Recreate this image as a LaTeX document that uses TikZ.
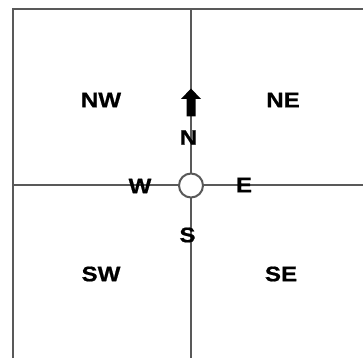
\documentclass[tikz,border=0pt]{standalone}
\usepackage{fontspec}
\setmainfont[FakeStretch=1.15]{Liberation Sans}
\usetikzlibrary{arrows.meta}

\begin{document}
\begin{tikzpicture}[
    x=1pt, y=-1pt,
    font=\bfseries\addfontfeatures{FakeBold=0.8}\fontsize{21}{21}\selectfont,
    grid/.style={draw=black!65, line width=2pt},
    quadrant/.style={inner sep=0pt, anchor=center},
    dirlabel/.style={inner sep=0pt, anchor=center},
    origin/.style={circle, draw=black!65, line width=2pt, fill=white, minimum size=24pt, inner sep=0pt},
    north arrow/.style={fill=black}
]
\useasboundingbox (0,0) rectangle (363,358);

% outer frame and the two axes
\coordinate (topleft) at (12.5,9.5);
\coordinate (topright) at (363,9.5);
\coordinate (bottomleft) at (12.5,358);
\coordinate (axistop) at (191,9.5);
\coordinate (axisbottom) at (191,358);
\coordinate (axisleft) at (12.5,185);
\coordinate (axisright) at (363,185);
\draw[grid] (bottomleft) -- (topleft) -- (topright);
\draw[grid] (axistop) -- (axisbottom);
\draw[grid] (axisleft) -- (axisright);

\node[origin] (origin) at (191,185.5) {};

% block arrow pointing north
\coordinate (arrowtip) at (191,88.5);
\fill[north arrow] (arrowtip) -- ++(10,10.5) -- ++(-5.5,0) -- ++(0,17.5)
    -- ++(-9,0) -- ++(0,-17.5) -- ++(-5.5,0) -- cycle;

\node[quadrant] (nw) at (101,100) {NW};
\node[quadrant] (ne) at (283,100) {NE};
\node[quadrant] (sw) at (101,274) {SW};
\node[quadrant] (se) at (281,274) {SE};

\node[dirlabel] (n) at (188.5,137.5) {N};
\node[dirlabel] (w) at (140,186) {W};
\node[dirlabel] (e) at (244,185) {E};
\node[dirlabel] (s) at (187.5,235) {S};
\end{tikzpicture}
\end{document}
